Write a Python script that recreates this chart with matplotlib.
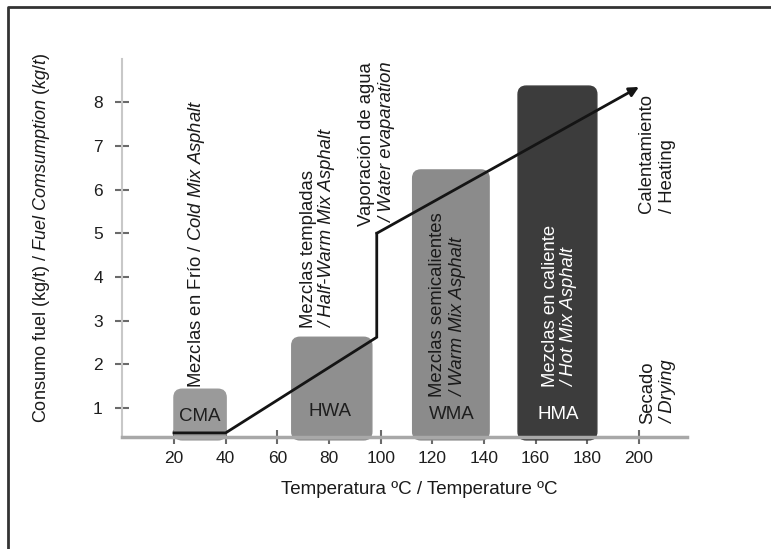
import matplotlib
matplotlib.use("Agg")
import matplotlib.pyplot as plt
from matplotlib.patches import FancyBboxPatch
from matplotlib.lines import Line2D

plt.rcParams['font.family'] = ['Liberation Sans', 'DejaVu Sans']
plt.rcParams['mathtext.fontset'] = 'custom'
plt.rcParams['mathtext.rm'] = 'Liberation Sans'
plt.rcParams['mathtext.it'] = 'Liberation Sans:italic'

# --- данные ---
mezclas = ['CMA', 'HWA', 'WMA', 'HMA']
temp_ini = [20, 65.6, 112.4, 153.2]
temp_fin = [40.2, 96.6, 142, 183.7]
consumo = [1.43, 2.62, 6.45, 8.37]
base_barra = 0.27

linea_t = [20, 40, 98.5, 98.5]
linea_c = [0.43, 0.43, 2.62, 5.0]
flecha_t = 200
flecha_c = 8.35

xticks = [20, 40, 60, 80, 100, 120, 140, 160, 180, 200]
yticks = [1, 2, 3, 4, 5, 6, 7, 8]

colores = ['#9a9a9a', '#8f8f8f', '#8b8b8b', '#3c3c3c']
color_texto = ['#1e1e1e', '#1e1e1e', '#1e1e1e', '#ffffff']

W, H = 771, 549
fig = plt.figure(figsize=(W / 100, H / 100), dpi=100)
ax = fig.add_axes([122.3 / W, (H - 437) / H, (687 - 122.3) / W, (437 - 59) / H])
ax.set_xlim(0, 218.6)
ax.set_ylim(0.336, 8.99)

# аспект для скругления углов
px_x = (687 - 122.3) / 218.6
px_y = (437 - 59) / (8.99 - 0.336)

for i in range(len(mezclas)):
    caja = FancyBboxPatch((temp_ini[i], base_barra), temp_fin[i] - temp_ini[i],
                          consumo[i] - base_barra,
                          boxstyle="round,pad=0,rounding_size=3.2",
                          mutation_aspect=px_x / px_y,
                          facecolor=colores[i], edgecolor=colores[i], lw=1,
                          clip_on=False, zorder=2)
    ax.add_patch(caja)

# подписи на столбцах
pos_etiquetas = [(30.1, 0.80), (80.4, 0.91), (127.6, 0.84), (168.7, 0.84)]
for i, (x, y) in enumerate(pos_etiquetas):
    ax.text(x, y, mezclas[i], ha='center', va='center', fontsize=13.5,
            color=color_texto[i], zorder=4)

# линия расхода + стрелка
ax.plot(linea_t, linea_c, color='#141414', lw=2, zorder=3, solid_joinstyle='miter')
ax.annotate('', xy=(flecha_t, flecha_c), xytext=(linea_t[-1], linea_c[-1]),
            arrowprops=dict(arrowstyle='-|>', color='#141414', lw=2,
                            shrinkA=0, shrinkB=0, mutation_scale=14),
            zorder=3, annotation_clip=False)

fs = 13.3
tc = '#1a1a1a'
kw = dict(rotation=90, fontsize=fs, color=tc, ha='center', zorder=5, clip_on=False)

ax.text(28.9, 1.46, r'Mezclas en Frío / $\mathit{Cold\ Mix\ Asphalt}$', va='bottom', **kw)

ax.text(71.9, 2.83, 'Mezclas templadas', va='bottom', **kw)
ax.text(79.6, 2.83, '/ Half-Warm Mix Asphalt', va='bottom', style='italic', **kw)

ax.text(94.7, 8.92, 'Vaporación de agua', va='top', **kw)
ax.text(102.6, 8.92, '/ Water evaparation', va='top', style='italic', **kw)

ax.text(122.2, 1.25, 'Mezclas semicalientes', va='bottom', **kw)
ax.text(130.0, 1.25, '/ Warm Mix Asphalt', va='bottom', style='italic', **kw)

kw_b = dict(kw, color='white')
ax.text(165.6, 1.48, 'Mezclas en caliente', va='bottom', **kw_b)
ax.text(173.3, 1.48, '/ Hot Mix Asphalt', va='bottom', style='italic', **kw_b)

ax.text(203.1, 5.46, 'Calentamiento', va='bottom', **kw)
ax.text(210.9, 5.46, '/ Heating', va='bottom', **kw)

ax.text(203.5, 0.63, 'Secado', va='bottom', **kw)
ax.text(211.3, 0.63, '/ Drying', va='bottom', style='italic', **kw)

# оси
for s in ['top', 'right']:
    ax.spines[s].set_visible(False)
ax.spines['left'].set_color('#c8c8c8')
ax.spines['left'].set_linewidth(1.5)
ax.spines['bottom'].set_color('#a8a8a8')
ax.spines['bottom'].set_linewidth(2.5)
ax.spines['bottom'].set_zorder(6)

ax.set_xticks(xticks)
ax.set_yticks(yticks)
ax.tick_params(direction='inout', length=10, width=1.5, color='#6a6a6a',
               labelsize=12.5, labelcolor='#1e1e1e')
ax.tick_params(axis='x', pad=5)
ax.tick_params(axis='y', pad=9)

fig.text(42 / W, 1 - 238 / H,
         r'Consumo fuel (kg/t) / $\mathit{Fuel\ Comsumption\ (kg/t)}$',
         rotation=90, ha='center', va='center', fontsize=13, color=tc)
fig.text(419 / W, 1 - 490 / H, 'Temperatura ºC / Temperature ºC',
         ha='center', va='center', fontsize=13.5, color=tc)

# рамка
fig.add_artist(Line2D([8 / W, 8 / W, 1], [0, 1 - 7 / H, 1 - 7 / H],
                      transform=fig.transFigure, color='#333333', lw=2))

fig.savefig('out.png', dpi=100, facecolor='white')
